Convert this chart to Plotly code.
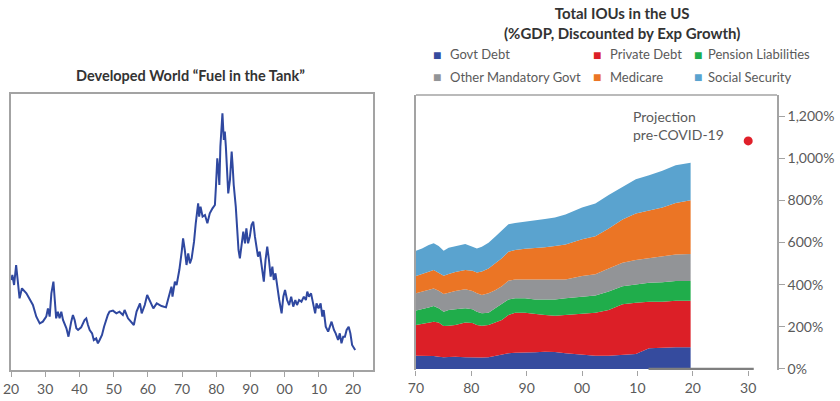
import plotly.graph_objects as go

# --- left panel: developed world "fuel in the tank" (unitless index)
fuel_years = [
    1920.1, 1920.4, 1920.9, 1921.5, 1922.5, 1923.2, 1924.5, 1925.5, 1926.4, 1927.4,
    1928.4, 1929.3, 1930.3, 1930.8, 1931.3, 1931.8, 1932.4, 1932.8, 1933.2, 1933.7,
    1934.2, 1934.7, 1935.2, 1936.2, 1936.8, 1937.6, 1938.1, 1938.6, 1939.1, 1939.6,
    1940.5, 1941.5, 1942.0, 1942.5, 1943.0, 1943.7, 1944.2, 1944.9, 1945.4, 1945.9,
    1946.6, 1947.2, 1947.8, 1948.3, 1948.8, 1949.8, 1950.8, 1951.7, 1952.7, 1953.2,
    1954.2, 1955.2, 1955.9, 1956.7, 1957.7, 1958.2, 1959.1, 1959.8, 1960.6, 1961.6,
    1962.6, 1964.0, 1965.3, 1966.3, 1966.9, 1967.2, 1967.9, 1968.4, 1969.2, 1969.9,
    1970.3, 1970.8, 1971.3, 1971.8, 1972.3, 1972.8, 1973.5, 1974.0, 1974.7, 1975.0,
    1975.4, 1976.0, 1976.7, 1977.4, 1978.1, 1978.9, 1979.6, 1979.9, 1980.3, 1980.6,
    1980.9, 1981.2, 1981.5, 1981.8, 1982.2, 1982.5, 1982.8, 1983.2, 1983.5, 1984.0,
    1984.5, 1984.8, 1985.1, 1985.7, 1986.1, 1986.5, 1986.9, 1987.4, 1987.9, 1988.4,
    1988.8, 1989.3, 1989.8, 1990.3, 1990.8, 1991.3, 1991.8, 1992.2, 1992.7, 1993.2,
    1993.9, 1994.4, 1994.9, 1995.4, 1995.9, 1996.4, 1996.8, 1997.3, 1997.8, 1998.4,
    1999.1, 1999.6, 2000.1, 2000.7, 2001.3, 2001.9, 2002.5, 2003.1, 2003.6, 2004.2,
    2004.9, 2005.6, 2006.2, 2006.6, 2007.1, 2007.7, 2008.3, 2008.9, 2009.3, 2009.9,
    2010.5, 2011.0, 2011.4, 2012.0, 2012.7, 2013.2, 2013.7, 2014.4, 2014.9, 2015.6,
    2016.1, 2016.6, 2017.1, 2017.6, 2018.1, 2018.7, 2019.2, 2019.7, 2020.3, 2020.6,
]
fuel_index = [
    27.0, 28.5, 25.5, 31.5, 21.5, 24.5, 23.0, 21.0, 19.5, 16.0,
    14.0, 14.5, 16.0, 18.5, 16.0, 23.0, 26.5, 21.0, 15.5, 17.5,
    15.5, 17.5, 15.0, 12.5, 10.0, 14.5, 16.5, 15.0, 12.5, 12.0,
    12.8, 15.0, 15.5, 13.5, 12.0, 11.0, 9.0, 9.5, 8.0, 9.0,
    10.5, 13.0, 15.0, 16.5, 17.5, 17.8, 17.0, 17.5, 16.5, 18.0,
    15.5, 14.5, 13.5, 17.5, 20.0, 17.0, 19.5, 22.5, 20.5, 18.5,
    20.0, 19.2, 18.8, 23.0, 25.0, 22.0, 26.5, 25.5, 30.0, 35.5,
    39.5, 36.0, 31.5, 35.0, 32.0, 33.5, 38.5, 44.0, 50.0, 46.0,
    49.0, 46.0, 46.5, 44.0, 47.0, 48.5, 49.5, 55.0, 63.5, 60.5,
    55.5, 67.0, 71.0, 77.0, 69.0, 71.5, 67.0, 56.0, 53.0, 57.0,
    65.5, 61.0, 55.5, 49.0, 43.0, 36.0, 33.5, 37.0, 41.5, 38.0,
    42.5, 38.0, 40.0, 43.5, 44.5, 40.0, 37.0, 34.0, 35.5, 31.0,
    26.5, 33.0, 37.0, 33.0, 28.0, 31.0, 27.0, 29.0, 24.5, 21.0,
    17.0, 22.0, 24.0, 21.0, 19.5, 22.0, 19.0, 21.0, 19.5, 21.0,
    20.5, 22.0, 21.0, 23.5, 22.0, 23.0, 20.0, 17.0, 20.0, 18.5,
    20.0, 16.0, 18.0, 13.0, 11.5, 13.0, 14.5, 12.0, 11.0, 9.0,
    11.0, 8.0, 10.0, 10.0, 12.0, 13.0, 11.0, 7.5, 6.5, 6.0,
]
fuel_ticks = [1920, 1930, 1940, 1950, 1960, 1970, 1980, 1990, 2000, 2010, 2020]
fuel_ticktext = ["20", "30", "40", "50", "60", "70", "80", "90", "00", "10", "20"]

# --- right panel: total IOUs in the US, %GDP (layer thickness, stacked by plotly)
iou_years = [
    1970.0, 1971.1, 1972.3, 1973.2, 1974.1, 1975.0, 1975.9, 1977.1, 1978.9, 1980.2,
    1981.0, 1981.9, 1983.1, 1984.3, 1985.5, 1986.7, 1987.9, 1989.7, 1991.5, 1993.3,
    1995.1, 1997.0, 2000.0, 2002.4, 2004.8, 2007.3, 2009.7, 2012.1, 2014.5, 2016.9,
    2019.6,
]
govt_debt = [63, 63, 62, 62, 58, 55, 57, 58, 55, 54, 52, 54, 55, 62, 66, 74, 77, 77, 79, 82,
             81, 74, 66, 63, 63, 66, 71, 98, 101, 103, 103]
private_debt = [146, 150, 158, 162, 162, 149, 148, 151, 165, 164, 157, 151, 154, 158, 166, 182,
                190, 190, 182, 174, 172, 182, 195, 204, 217, 241, 243, 221, 218, 221, 221]
pension_liab = [68, 70, 72, 75, 68, 68, 75, 74, 68, 65, 63, 59, 58, 68, 79, 74, 68, 68, 69, 74,
                77, 79, 82, 81, 87, 86, 87, 90, 93, 93, 93]
other_mandatory = [82, 84, 86, 83, 83, 84, 82, 87, 90, 87, 87, 87, 92, 86, 82, 89, 90, 90, 92, 92,
                   95, 90, 98, 101, 110, 111, 116, 116, 120, 126, 128]
medicare = [82, 82, 83, 87, 86, 86, 88, 90, 91, 96, 99, 112, 118, 127, 132, 137, 139, 145, 150,
            155, 158, 166, 174, 181, 190, 205, 221, 228, 234, 245, 256]
social_security = [120, 123, 127, 127, 126, 119, 125, 123, 124, 114, 114, 117, 122, 126, 131, 131,
                   129, 128, 134, 134, 136, 142, 151, 155, 158, 155, 162, 166, 174, 179, 177]

series_names = ["Govt Debt", "Private Debt", "Pension Liabilities",
                "Other Mandatory Govt", "Medicare", "Social Security"]
series_values = [govt_debt, private_debt, pension_liab, other_mandatory, medicare, social_security]
series_colors = ["#354b9e", "#dc1f27", "#20ad4b", "#929497", "#eb7525", "#5aa3cf"]

projection_years = [2012, 2031]
projection_base = [0, 0]
precovid_year = [2030]
precovid_value = [1082]

iou_ticks = [1970, 1980, 1990, 2000, 2010, 2020, 2030]
iou_ticktext = ["70", "80", "90", "00", "10", "20", "30"]
pct_ticks = [0, 200, 400, 600, 800, 1000, 1200]
pct_ticktext = ["0%", "200%", "400%", "600%", "800%", "1,000%", "1,200%"]

FONT = "Lato"
AXIS_GREY = "#a3a3a3"
TICK_FONT = dict(family=FONT, size=14, color="#5a5a5a")

fig = go.Figure()

fig.add_trace(go.Scatter(x=fuel_years, y=fuel_index, mode="lines",
                         line=dict(color="#2f48a0", width=2),
                         xaxis="x", yaxis="y", showlegend=False))

for name, vals, col in zip(series_names, series_values, series_colors):
    fig.add_trace(go.Scatter(x=iou_years, y=vals, name=name, mode="lines",
                             stackgroup="iou", line=dict(width=0, color=col),
                             fillcolor=col, xaxis="x2", yaxis="y2", showlegend=False))

fig.add_trace(go.Scatter(x=projection_years, y=projection_base, mode="lines",
                         line=dict(color="#7f7f7f", width=2.5),
                         xaxis="x2", yaxis="y2", showlegend=False))
fig.add_trace(go.Scatter(x=precovid_year, y=precovid_value, mode="markers",
                         marker=dict(color="#e0202a", size=9),
                         xaxis="x2", yaxis="y2", showlegend=False))

fig.update_layout(
    width=840, height=401,
    margin=dict(l=0, r=0, t=0, b=0, autoexpand=False),
    showlegend=False,
    hovermode=False,
    paper_bgcolor="white", plot_bgcolor="white",
    font=dict(family=FONT, color="#333333"),
    xaxis=dict(domain=[0.0131, 0.444], range=[1920, 2025.8], tickvals=fuel_ticks,
               ticktext=fuel_ticktext, ticks="outside", ticklen=5, tickcolor=AXIS_GREY,
               showline=True, mirror=True, linecolor=AXIS_GREY, linewidth=1.5,
               showgrid=False, zeroline=False, tickfont=TICK_FONT, automargin=False),
    yaxis=dict(domain=[0.0773, 0.7656], range=[0, 82.8], showticklabels=False,
               showline=True, mirror=True, linecolor=AXIS_GREY, linewidth=1.5,
               showgrid=False, zeroline=False, automargin=False),
    xaxis2=dict(domain=[0.4952, 0.925], range=[1970, 2035.2], tickvals=iou_ticks,
                ticktext=iou_ticktext, ticks="outside", ticklen=5, tickcolor=AXIS_GREY,
                showline=False, showgrid=False, zeroline=False, anchor="y2",
                tickfont=TICK_FONT, automargin=False),
    yaxis2=dict(domain=[0.0773, 0.7631], range=[-5, 1300], side="right", anchor="x2",
                tickvals=pct_ticks, ticktext=pct_ticktext, ticks="outside",
                ticklen=6, tickcolor=AXIS_GREY, showline=True, mirror=True,
                linecolor=AXIS_GREY, linewidth=1.5, showgrid=False, zeroline=False,
                tickfont=TICK_FONT, automargin=False),
)

# top border of the right panel (no bottom line there)
fig.add_shape(type="line", xref="paper", yref="paper", x0=0.4952, x1=0.925,
              y0=0.7631, y1=0.7631, line=dict(color=AXIS_GREY, width=1.5))

fig.add_annotation(text="<b>Developed World “Fuel in the Tank”</b>", xref="paper", yref="paper",
                   x=0.2262, y=0.8105, xanchor="center", yanchor="middle", showarrow=False,
                   font=dict(size=14.5, color="#333333"))
fig.add_annotation(text="<b>Total IOUs in the US<br>(%GDP, Discounted by Exp Growth)</b>",
                   xref="paper", yref="paper", x=0.7405, y=0.9426, xanchor="center",
                   yanchor="middle", showarrow=False, font=dict(size=15, color="#333333"))
fig.add_annotation(text="Projection<br>pre-COVID-19", xref="x2", yref="y2", x=2008.9, y=1156,
                   xanchor="left", yanchor="middle", align="left", showarrow=False,
                   font=dict(size=14, color="#5a5a5a"))

# legend drawn by hand: three columns, two rows
legend_x = [(0.5202, 0.5333), (0.7107, 0.7238), (0.8310, 0.8405)]
legend_y = [0.8653, 0.808]
for i, (name, col) in enumerate(zip(series_names, series_colors)):
    sx, tx = legend_x[i % 3]
    ly = legend_y[i // 3]
    fig.add_annotation(text="■", xref="paper", yref="paper", x=sx, y=ly, xanchor="center",
                       yanchor="middle", showarrow=False, font=dict(size=14, color=col))
    fig.add_annotation(text=name, xref="paper", yref="paper", x=tx, y=ly, xanchor="left",
                       yanchor="middle", showarrow=False, font=dict(size=13, color="#5a5a5a"))

# plotly's page keeps the browser's default 8px body margin; drop it so the
# figure sits at the window's top-left corner
fig.write_html("out.html", config={"displayModeBar": False},
               post_script="document.body.style.margin = '0px';")
